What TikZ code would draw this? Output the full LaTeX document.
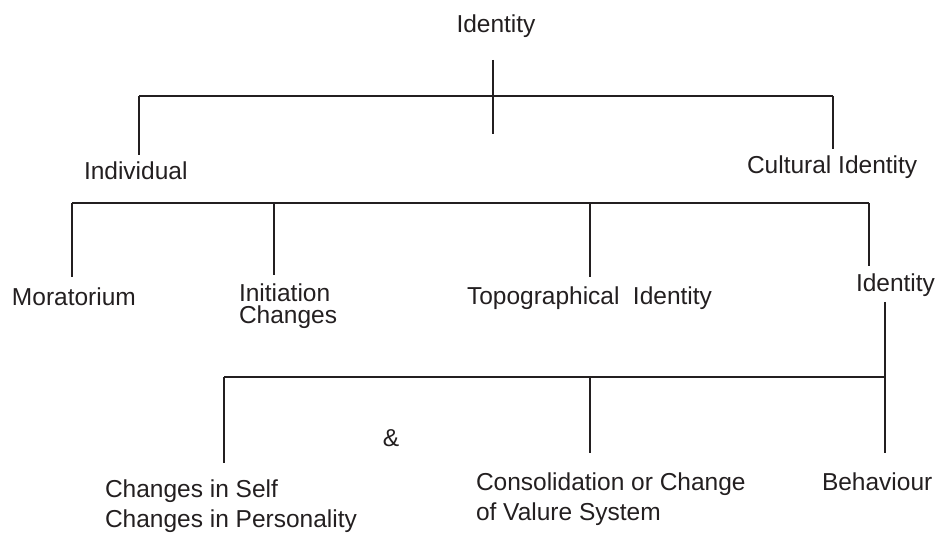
\documentclass[tikz,border=0pt]{standalone}
\usepackage{fontspec}
\setmainfont{Liberation Sans}
\definecolor{ink}{HTML}{231F20}
% two lines stacked on a fixed baseline distance; baseline of the first line
\newcommand{\pairlines}[3]{\vtop{\baselineskip=#3pt\lineskiplimit=-100pt\lineskip=0pt\hbox{#1}\hbox{#2}}}
\tikzset{
  lbl/.style={anchor=base west, inner sep=0pt, outer sep=0pt, text=ink,
              font=\fontsize{24.5}{28}\selectfont},
  bar/.style={draw=ink, line width=1.8pt},
  drop/.style={draw=ink, line width=1.2pt},
}
\begin{document}
\begin{tikzpicture}[x=1pt, y=-1pt]
\useasboundingbox (0,0) rectangle (943,534);

% labels
\node[lbl, anchor=base] (root) at (496,33) {Identity};
\node[lbl] (indiv) at (84,180) {Individual};
\node[lbl] (cult) at (747,174) {Cultural Identity};
\node[lbl] (morat) at (12,306) {Moratorium};
\node[lbl] (init) at (239,302) {\pairlines{Initiation}{Changes}{22}};
\node[lbl] (topo) at (467,305) {Topographical\hspace{0.55em}Identity};
\node[lbl] (idr) at (856,292) {Identity};
\node[lbl, anchor=base] (amp) at (391,447) {\&};
\node[lbl] (chself) at (105,498) {\pairlines{Changes in Self}{Changes in Personality}{29}};
\node[lbl] (consol) at (476,490) {\pairlines{Consolidation or Change}{of Valure System}{30}};
\node[lbl] (behav) at (822,490) {Behaviour};

% first level: stem under the root and its bar
\coordinate (rootA) at (493,60);
\coordinate (rootB) at (493,134);
\coordinate (barAl) at (139,96);
\coordinate (barAr) at (833,96);
\coordinate (indivT) at (139,155);
\coordinate (cultT) at (833,149);
\draw[drop] (rootA) -- (rootB);
\draw[bar] (barAl) -- (barAr);
\draw[drop] (barAl) -- (indivT);
\draw[drop] (barAr) -- (cultT);

% second level bar with its four drops
\coordinate (barBl) at (72,203);
\coordinate (barBr) at (869,203);
\coordinate (barBi) at (274,203);
\coordinate (barBt) at (590,203);
\coordinate (moratT) at (72,277);
\coordinate (initT) at (274,275);
\coordinate (topoT) at (590,277);
\coordinate (idrT) at (869,266);
\draw[bar] (barBl) -- (barBr);
\draw[drop] (barBl) -- (moratT);
\draw[drop] (barBi) -- (initT);
\draw[drop] (barBt) -- (topoT);
\draw[drop] (barBr) -- (idrT);

% third level under the right-hand Identity
\coordinate (idrB) at (885,302);
\coordinate (barCr) at (885,377);
\coordinate (barCl) at (224,377);
\coordinate (barCm) at (590,377);
\coordinate (chselfT) at (224,463);
\coordinate (consolT) at (590,453);
\coordinate (behavT) at (885,453);
\draw[drop] (idrB) -- (barCr);
\draw[bar] (barCl) -- (barCr);
\draw[drop] (barCl) -- (chselfT);
\draw[drop] (barCm) -- (consolT);
\draw[drop] (barCr) -- (behavT);
\end{tikzpicture}
\end{document}
